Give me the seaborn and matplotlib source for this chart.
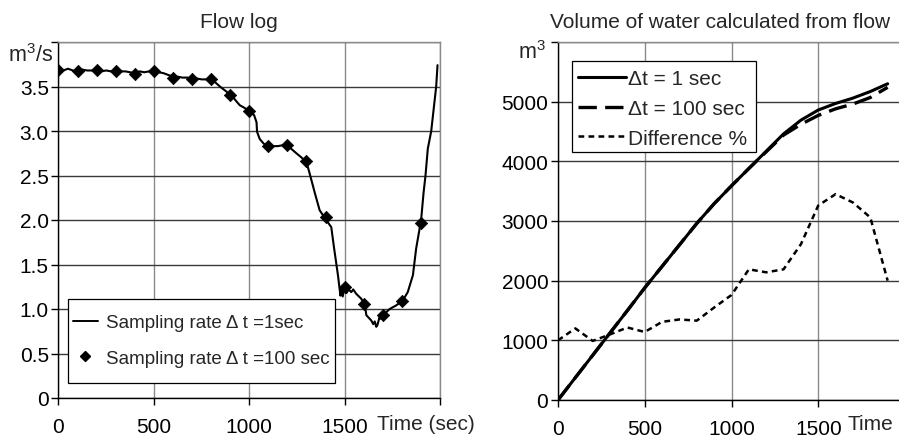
import matplotlib
matplotlib.use("Agg")
import matplotlib.pyplot as plt
import seaborn as sns
from matplotlib.lines import Line2D
from matplotlib.patches import Rectangle

# ---------------- data ----------------
# Flow log, sampling every 1 s (read at key points)
t_1s = [0, 25, 50, 75, 100, 125, 150, 175, 200, 225, 250, 275, 300, 325, 350, 375,
        400, 425, 450, 475, 500, 525, 550, 575, 600, 625, 650, 675, 700, 725, 750,
        775, 800, 820, 846, 870, 907, 930, 950, 975, 1003, 1025, 1038, 1041, 1055,
        1075, 1098, 1125, 1150, 1175, 1195, 1220, 1247, 1275, 1300, 1317, 1343,
        1369, 1400, 1430, 1445, 1465, 1478, 1483, 1490, 1500, 1510, 1520, 1535,
        1545, 1561, 1585, 1605, 1614, 1627, 1640, 1650, 1658, 1666, 1672, 1683,
        1690, 1709, 1736, 1770, 1805, 1831, 1858, 1875, 1901, 1914, 1924, 1936,
        1954, 1980, 1987]
flow_1s = [3.69, 3.68, 3.70, 3.68, 3.67, 3.69, 3.68, 3.68, 3.69, 3.67, 3.68, 3.67,
           3.68, 3.67, 3.67, 3.66, 3.65, 3.67, 3.66, 3.67, 3.67, 3.66, 3.65, 3.63,
           3.61, 3.61, 3.60, 3.60, 3.59, 3.59, 3.58, 3.58, 3.58, 3.55, 3.50, 3.46,
           3.40, 3.34, 3.29, 3.26, 3.22, 3.18, 3.10, 2.99, 2.91, 2.86, 2.82, 2.83,
           2.83, 2.84, 2.84, 2.80, 2.75, 2.70, 2.65, 2.52, 2.31, 2.11, 2.01, 1.92,
           1.68, 1.38, 1.15, 1.22, 1.14, 1.26, 1.18, 1.22, 1.19, 1.22, 1.17, 1.12,
           1.06, 0.93, 0.90, 0.87, 0.83, 0.86, 0.80, 0.82, 0.91, 0.89, 0.945, 1.00,
           1.04, 1.095, 1.19, 1.38, 1.68, 2.00, 2.31, 2.50, 2.80, 3.00, 3.50, 3.74]

# Flow log, sampling every 100 s
t_100s = [0, 100, 200, 300, 400, 500, 600, 700, 800, 900, 1000, 1100, 1200, 1300,
          1400, 1500, 1600, 1700, 1800, 1900]
flow_100s = [3.69, 3.67, 3.69, 3.67, 3.64, 3.67, 3.60, 3.58, 3.58, 3.40, 3.22, 2.83,
             2.84, 2.66, 2.03, 1.25, 1.06, 0.93, 1.09, 1.97]

# Volume of water (m3) and difference curve
vol_t = t_100s
vol_1s = [0, 375, 750, 1125, 1500, 1880, 2240, 2600, 2960, 3290, 3590, 3880, 4170,
          4460, 4690, 4860, 4970, 5060, 5170, 5300]
vol_100s = [0, 375, 750, 1125, 1500, 1880, 2240, 2600, 2960, 3290, 3590, 3880, 4160,
            4440, 4620, 4770, 4880, 4960, 5070, 5240]
diff_pct = [1000, 1200, 990, 1100, 1215, 1140, 1310, 1350, 1330, 1550, 1760, 2190,
            2140, 2190, 2610, 3260, 3450, 3310, 3060, 2000]

left_xticks = [0, 500, 1000, 1500, 2000]
left_xlabels = ["0", "500", "1000", "1500", ""]
left_yticks = [0, 0.5, 1.0, 1.5, 2.0, 2.5, 3.0, 3.5, 4.0]
left_ylabels = ["0", "0.5", "1.0", "1.5", "2.0", "2.5", "3.0", "3.5", ""]
right_yticks = [0, 1000, 2000, 3000, 4000, 5000, 6000]
right_ylabels = ["0", "1000", "2000", "3000", "4000", "5000", ""]

# ---------------- styling ----------------
sns.set_theme(style="white")
plt.rcParams['font.family'] = ['Liberation Sans', 'DejaVu Sans']
plt.rcParams['mathtext.fontset'] = 'custom'
plt.rcParams['mathtext.rm'] = 'Liberation Sans'
plt.rcParams['mathtext.it'] = 'Liberation Sans'

W, H = 899, 439
fig = plt.figure(figsize=(W / 100, H / 100), dpi=100)


def axrect(l, t, r, b):
    return [l / W, 1 - b / H, (r - l) / W, (b - t) / H]


def legend_box(ax, l, t, r, b):
    ax.add_patch(Rectangle((l / W, 1 - b / H), (r - l) / W, (b - t) / H,
                           transform=fig.transFigure, facecolor='white',
                           edgecolor='black', lw=0.9, zorder=5, clip_on=False))


ax1 = fig.add_axes(axrect(58.5, 43, 440, 399))
ax2 = fig.add_axes(axrect(558, 43, 905, 401))


def style_axes(ax):
    ax.set_facecolor('white')
    ax.grid(axis='y', color='#3a3a3a', lw=1.0)
    ax.grid(axis='x', color='#8a8a8a', lw=1.0)
    ax.set_axisbelow(True)
    for s in ['left', 'bottom']:
        ax.spines[s].set_color('black')
        ax.spines[s].set_linewidth(1.0)
    for s in ['top', 'right']:
        ax.spines[s].set_color('#8a8a8a')
        ax.spines[s].set_linewidth(1.0)
    ax.tick_params(axis='both', bottom=True, left=True, direction='out',
                   length=5, width=1, color='black', labelsize=15,
                   labelcolor='black')
    ax.tick_params(axis='x', pad=9)
    ax.tick_params(axis='y', pad=2)
    ax.set_xlabel('')
    ax.set_ylabel('')


# ---------------- left: flow log ----------------
sns.lineplot(x=t_1s, y=flow_1s, ax=ax1, color='black', lw=1.5, legend=False)
sns.scatterplot(x=t_100s, y=flow_100s, ax=ax1, color='black', marker='D', s=40,
                edgecolor='black', linewidth=0.5, legend=False, zorder=3)
ax1.set_xlim(0, 2000)
ax1.set_ylim(0, 4.0)
ax1.set_xticks(left_xticks)
ax1.set_xticklabels(left_xlabels)
ax1.set_yticks(left_yticks)
ax1.set_yticklabels(left_ylabels)
style_axes(ax1)

legend_box(ax1, 68, 300, 335, 384)
h1 = [Line2D([], [], color='black', lw=1.4),
      Line2D([], [], color='black', marker='D', ms=5, lw=0)]
leg1 = ax1.legend(h1, ["Sampling rate \u0394 t =1sec", "Sampling rate \u0394 t =100 sec"],
                  loc='upper left', bbox_to_anchor=(73 / W, 1 - 315 / H),
                  bbox_transform=fig.transFigure, fontsize=13.5, frameon=False,
                  handlelength=1.33, handletextpad=0.43, labelspacing=1.0,
                  borderpad=0, borderaxespad=0)
leg1.set_zorder(6)

fig.text(239 / W, 1 - 23 / H, "Flow log", ha='center', va='center', fontsize=15)
fig.text(53 / W, 1 - 56 / H, "m$^3$/s", ha='right', va='center', fontsize=15.5)
fig.text(377 / W, 1 - 425 / H, "Time (sec)", ha='left', va='center', fontsize=15)

# ---------------- right: volume ----------------
dash_100 = (0, (5.5, 2.5))
dot_diff = (0, (2.3, 1.7))
sns.lineplot(x=vol_t, y=vol_1s, ax=ax2, color='black', lw=2.2, legend=False)
sns.lineplot(x=vol_t, y=vol_100s, ax=ax2, color='black', lw=2.4,
             linestyle=dash_100, legend=False)
sns.lineplot(x=vol_t, y=diff_pct, ax=ax2, color='black', lw=1.8,
             linestyle=dot_diff, legend=False)
ax2.set_xlim(0, 2000)
ax2.set_ylim(0, 6000)
ax2.set_xticks(left_xticks)
ax2.set_xticklabels(left_xlabels)
ax2.set_yticks(right_yticks)
ax2.set_yticklabels(right_ylabels)
style_axes(ax2)

legend_box(ax2, 572, 62, 756, 153)
h2 = [Line2D([], [], color='black', lw=2.2),
      Line2D([], [], color='black', lw=2.4, linestyle=dash_100),
      Line2D([], [], color='black', lw=1.8, linestyle=dot_diff)]
leg2 = ax2.legend(h2, ["\u0394t = 1 sec", "\u0394t = 100 sec", "Difference %"],
                  loc='upper left', bbox_to_anchor=(578 / W, 1 - 70 / H),
                  bbox_transform=fig.transFigure, fontsize=15, frameon=False,
                  handlelength=2.3, handletextpad=0.1, labelspacing=0.52,
                  borderpad=0, borderaxespad=0)
leg2.set_zorder(6)

fig.text(720 / W, 1 - 22 / H, "Volume of water calculated from flow",
         ha='center', va='center', fontsize=15)
fig.text(546 / W, 1 - 53 / H, "m$^3$", ha='right', va='center', fontsize=15.5)
fig.text(848 / W, 1 - 425 / H, "Time", ha='left', va='center', fontsize=15)

fig.savefig("out.png", dpi=100)
